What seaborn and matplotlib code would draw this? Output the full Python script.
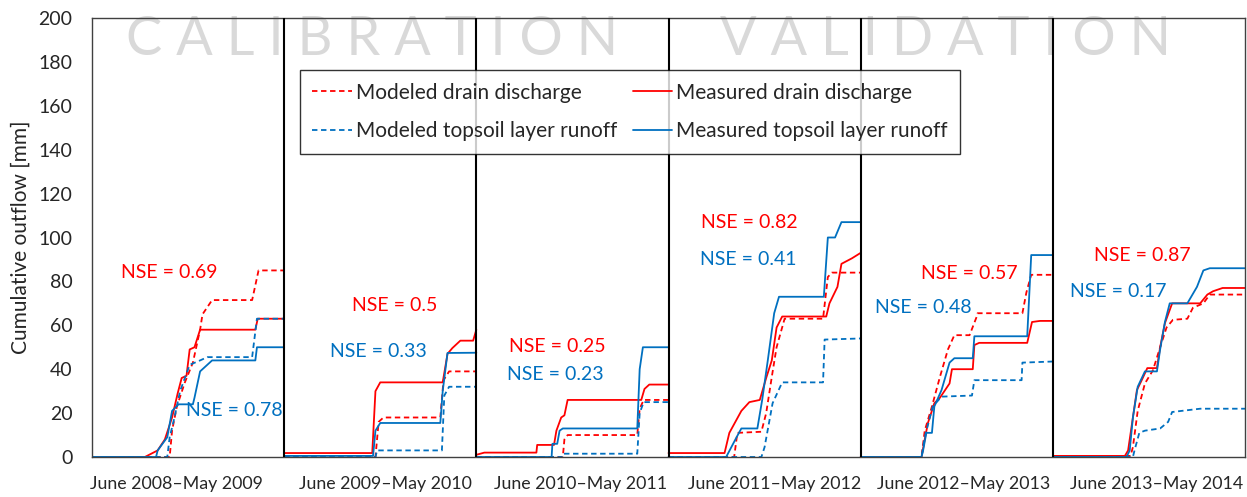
import pandas as pd
import matplotlib.pyplot as plt
import seaborn as sns
from matplotlib.lines import Line2D

# one list of (month, value) breakpoints per year panel
years = ['June 2008\u2013May 2009', 'June 2009\u2013May 2010', 'June 2010\u2013May 2011',
         'June 2011\u2013May 2012', 'June 2012\u2013May 2013', 'June 2013\u2013May 2014']

meas_drain = [
    [(0, 0), (3.3, 0), (4.1, 3), (4.55, 8), (5.0, 18), (5.35, 29), (5.6, 36), (5.9, 37), (6.1, 49),
     (6.4, 50), (6.75, 58), (10.2, 58), (10.35, 63), (12, 63)],
    [(0, 1.8), (5.5, 1.8), (5.7, 30), (6.0, 34), (9.9, 34), (10.2, 47), (10.5, 49.6), (11.0, 53),
     (11.8, 53), (12, 58)],
    [(0, 1), (0.5, 2), (3.75, 2), (3.8, 5.5), (4.85, 5.5), (5.0, 12), (5.2, 16), (5.3, 18), (5.5, 19),
     (5.7, 26), (10.3, 26), (10.5, 31), (10.8, 33), (12, 33)],
    [(0, 1.8), (3.5, 1.8), (3.8, 11), (4.55, 21), (5.05, 25), (5.7, 26), (6.1, 36), (6.45, 44),
     (6.75, 59), (7.1, 64), (9.85, 64), (10.05, 70), (10.55, 77.5), (10.8, 88), (11.45, 90.5), (12, 93)],
    [(0, 0), (3.8, 0), (4.0, 8), (4.2, 15.5), (4.6, 24.5), (4.95, 27), (5.55, 33.5), (5.7, 40),
     (7.0, 40), (7.1, 51), (7.4, 52), (10.4, 52), (10.7, 61.5), (11.2, 62), (12, 62)],
    [(0, 0.5), (4.5, 0.5), (4.7, 3), (4.95, 15.5), (5.25, 30.5), (5.55, 35), (5.9, 40.5), (6.5, 40.5),
     (6.7, 50), (7.0, 61), (7.45, 70), (9.2, 70), (9.65, 74), (10.0, 75.5), (10.6, 77), (12, 77)],
]

mod_drain = [
    [(0, 0), (4.85, 0), (5.0, 12), (5.3, 23), (5.8, 34), (6.3, 43), (6.75, 58), (6.9, 65), (7.5, 71.5),
     (10.0, 71.5), (10.4, 85), (12, 85)],
    [(0, 0), (5.7, 0), (5.9, 16), (6.2, 18), (9.75, 18), (9.95, 35), (10.3, 39), (12, 39)],
    [(0, 0), (5.4, 0), (5.5, 8), (5.7, 10), (10.05, 10), (10.2, 22), (10.45, 26), (12, 26)],
    [(0, 0), (4.1, 0), (4.3, 11), (5.8, 11.5), (6.1, 20), (6.45, 36.5), (6.75, 50), (7.25, 63),
     (9.65, 63), (9.95, 82), (10.2, 84), (12, 84)],
    [(0, 0), (3.8, 0), (4.0, 12), (4.45, 23), (4.95, 36.5), (5.45, 49), (5.85, 55.5), (6.8, 55.5),
     (7.25, 64), (7.3, 65.5), (10.1, 65.5), (10.35, 75), (10.65, 83), (12, 83)],
    [(0, 0.5), (4.85, 0.5), (5.0, 4.5), (5.3, 21), (5.75, 33.5), (6.25, 39.5), (6.7, 50), (7.1, 59),
     (7.5, 62.5), (8.4, 63), (8.75, 68), (9.4, 70), (9.8, 74), (12, 74)],
]

meas_top = [
    [(0, 0), (4.0, 0), (4.1, 3), (4.7, 9), (5.0, 21), (5.4, 24), (6.3, 24), (6.4, 27), (6.75, 39),
     (7.5, 44), (10.2, 44), (10.3, 50), (12, 50)],
    [(0, 0.5), (5.55, 0.5), (5.7, 12), (6.0, 15.5), (9.75, 15.5), (9.9, 30), (10.2, 47.4), (12, 47.5)],
    [(0, 0), (4.7, 0), (4.75, 6), (5.05, 6), (5.2, 12), (5.4, 13), (10.05, 13), (10.2, 40), (10.4, 50),
     (12, 50)],
    [(0, 0), (3.6, 0), (4.25, 9), (4.55, 13), (5.55, 13), (5.85, 26), (6.2, 44), (6.6, 65.5), (6.9, 73),
     (9.7, 73), (9.95, 100), (10.4, 100), (10.8, 107), (12, 107)],
    [(0, 0), (3.8, 0), (3.9, 3), (4.1, 11), (4.45, 11), (4.6, 23), (5.05, 30.5), (5.55, 43), (5.85, 45),
     (7.0, 45), (7.1, 55), (10.4, 55), (10.65, 92), (12, 92)],
    [(0, 0), (4.6, 0), (4.8, 3), (5.0, 18), (5.3, 32), (5.75, 39), (6.5, 39), (6.7, 49), (7.0, 61.5),
     (7.3, 70), (8.4, 70), (9.0, 77.5), (9.4, 85), (9.8, 86), (12, 86)],
]

mod_top = [
    [(0, 0), (4.7, 0), (4.85, 9), (5.15, 18), (5.5, 30), (6.1, 42), (6.75, 44), (7.2, 45.5),
     (10.0, 45.5), (10.3, 63), (12, 63)],
    [(0, 0), (5.7, 0), (5.8, 3), (9.85, 3), (10.0, 28), (10.3, 32), (12, 32)],
    [(0, 0), (5.4, 0), (5.45, 1.5), (10.05, 1.5), (10.2, 20), (10.45, 25), (12, 25)],
    [(0, 0), (5.8, 0), (6.0, 4.5), (6.5, 24.5), (7.1, 34), (9.65, 34), (9.75, 53.5), (12, 54)],
    [(0, 0), (3.8, 0), (4.0, 9), (4.5, 23), (5.05, 27.5), (6.95, 28), (7.1, 35), (10.05, 35),
     (10.1, 43), (12, 43.5)],
    [(0, 0), (5.0, 0), (5.1, 3), (5.4, 11), (5.75, 12), (6.7, 13), (7.2, 16), (7.45, 20.5),
     (9.2, 22), (12, 22)],
]

nse_drain = ['0.69', '0.5', '0.25', '0.82', '0.57', '0.87']
nse_top = ['0.78', '0.33', '0.23', '0.41', '0.48', '0.17']
nse_drain_pos = [(4.8, 84), (18.9, 69), (29.06, 50.5), (41.06, 107), (54.8, 83.4), (65.56, 91.6)]
nse_top_pos = [(8.9, 21.4), (17.9, 48), (28.94, 37.5), (41.0, 90), (51.94, 68), (64.06, 75.6)]

# where the year captions sit under the panels (months from the start)
year_label_x = [5.3, 18.3, 30.5, 42.6, 54.4, 66.5]

RED = '#FF0000'
BLUE = '#0070C0'

series = {
    'Modeled drain discharge': mod_drain,
    'Measured drain discharge': meas_drain,
    'Modeled topsoil layer runoff': mod_top,
    'Measured topsoil layer runoff': meas_top,
}
colors = {
    'Modeled drain discharge': RED,
    'Measured drain discharge': RED,
    'Modeled topsoil layer runoff': BLUE,
    'Measured topsoil layer runoff': BLUE,
}
dashes = {
    'Modeled drain discharge': (3, 2),
    'Measured drain discharge': '',
    'Modeled topsoil layer runoff': (3, 2),
    'Measured topsoil layer runoff': '',
}

rows = []
for name, panels in series.items():
    for i, pts in enumerate(panels):
        for m, v in pts:
            rows.append({'x': i * 12 + m, 'value': v, 'series': name, 'panel': i})
df = pd.DataFrame(rows)

sns.set_style('white')
plt.rcParams['font.family'] = ['Lato', 'DejaVu Sans']

fig = plt.figure(figsize=(12.47, 4.97), dpi=100)
ax = fig.add_axes([92 / 1247, 1 - 457 / 497, (1245 - 92) / 1247, (457 - 18) / 497])

sns.lineplot(data=df, x='x', y='value', hue='series', style='series', units='panel',
             estimator=None, sort=False, palette=colors, dashes=dashes, linewidth=1.3,
             legend=False, ax=ax)

for b in range(12, 72, 12):
    ax.axvline(b, color='black', lw=1.5, zorder=5)

ax.text(17.5, 190, 'C A L I B R A T I O N', ha='center', va='center', fontsize=39,
        color='#d9d9d9', zorder=0)
ax.text(53.3, 190, 'V A L I D A T I O N', ha='center', va='center', fontsize=39,
        color='#d9d9d9', zorder=0)

for lab, (x, y) in zip(nse_drain, nse_drain_pos):
    ax.text(x, y, 'NSE = ' + lab, color=RED, ha='center', va='center', fontsize=14)
for lab, (x, y) in zip(nse_top, nse_top_pos):
    ax.text(x, y, 'NSE = ' + lab, color=BLUE, ha='center', va='center', fontsize=14)

ax.set_xlim(0, 72)
ax.set_ylim(0, 200)
ax.set_yticks(range(0, 201, 20))
ax.set_xticks(year_label_x)
ax.set_xticklabels(years)
ax.tick_params(axis='both', length=0)
ax.tick_params(axis='y', labelsize=14, pad=14)
ax.tick_params(axis='x', labelsize=12.8, pad=14)
ax.set_xlabel('')
ax.set_ylabel('Cumulative outflow [mm]', fontsize=15, labelpad=6)
for s in ax.spines.values():
    s.set_color('#404040')
    s.set_linewidth(1.0)

labels = ['Modeled drain discharge', 'Modeled topsoil layer runoff',
          'Measured drain discharge', 'Measured topsoil layer runoff']
handles = []
for n in labels:
    if dashes[n]:
        handles.append(Line2D([], [], color=colors[n], lw=1.3, linestyle=(0, dashes[n])))
    else:
        handles.append(Line2D([], [], color=colors[n], lw=1.3, linestyle='-'))
leg = ax.legend(handles, labels, ncol=2, loc='upper left', bbox_to_anchor=(0.180, 0.8815),
                borderaxespad=0, fontsize=15, frameon=True, fancybox=False, edgecolor='black',
                handlelength=1.9, handletextpad=0.2, columnspacing=0.75, labelspacing=0.9,
                borderpad=0.6)
leg.get_frame().set_linewidth(1.0)
leg.set_zorder(10)

fig.savefig('out.png', dpi=100)
